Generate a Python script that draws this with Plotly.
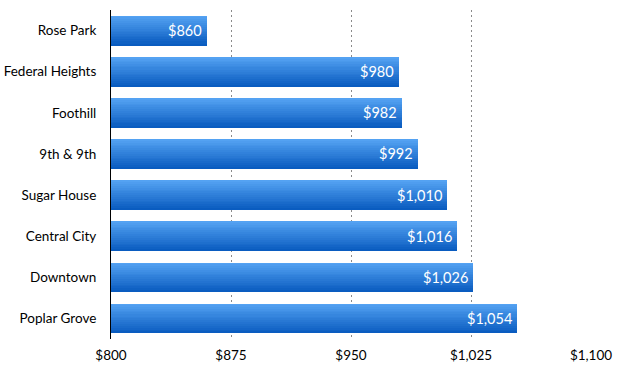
import plotly.graph_objects as go

neighborhoods = ["Rose Park", "Federal Heights", "Foothill", "9th & 9th",
                 "Sugar House", "Central City", "Downtown", "Poplar Grove"]
rents = [860, 980, 982, 992, 1010, 1016, 1026, 1054]
bar_labels = ["$860", "$980", "$982", "$992", "$1,010", "$1,016", "$1,026", "$1,054"]
tick_values = [800, 875, 950, 1025, 1100]
tick_labels = ["$800", "$875", "$950", "$1,025", "$1,100"]

FONT = "Lato, 'Open Sans', sans-serif"

def lerp(c1, c2, t):
    return "rgb(%d,%d,%d)" % tuple(round(a + (b - a) * t) for a, b in zip(c1, c2))

top_col = (84, 162, 242)
bot_col = (10, 92, 192)

fig = go.Figure()
N = 16
bar_w = 0.72
w = bar_w / N
for k in range(N):
    fig.add_trace(go.Bar(
        y=neighborhoods, x=rents, orientation="h",
        width=w * 1.08, offset=-bar_w / 2 + k * w,
        marker=dict(color=lerp(top_col, bot_col, k / (N - 1)), line=dict(width=0)),
        hoverinfo="skip", showlegend=False,
    ))

for name, val, lab in zip(neighborhoods, rents, bar_labels):
    fig.add_annotation(x=val, y=name, text=lab, showarrow=False,
                       xanchor="right", xshift=-3,
                       font=dict(family=FONT, size=14.5, color="white"))

fig.update_layout(
    width=629, height=377,
    margin=dict(l=111, r=38, t=10, b=38),
    paper_bgcolor="white", plot_bgcolor="white",
    barmode="overlay", bargap=0,
    font=dict(family=FONT, size=13.5, color="black"),
    xaxis=dict(range=[800, 1100], tickvals=tick_values, ticktext=tick_labels,
               showgrid=True, gridcolor="#8a8a8a", griddash="2px,3px", gridwidth=1,
               zeroline=False, showline=False, automargin=False,
               ticks="outside", ticklen=4, tickcolor="rgba(0,0,0,0)",
               tickfont=dict(family=FONT, size=13.5, color="black")),
    yaxis=dict(categoryorder="array", categoryarray=neighborhoods,
               autorange="reversed", showgrid=False, zeroline=False,
               showline=True, linecolor="black", linewidth=1, automargin=False,
               ticks="outside", ticklen=11, tickcolor="rgba(0,0,0,0)",
               tickfont=dict(family=FONT, size=13.5, color="black")),
)

fig.write_html("out.html", config={"displayModeBar": False},
               post_script="document.body.style.margin='0';document.body.style.padding='0';")
